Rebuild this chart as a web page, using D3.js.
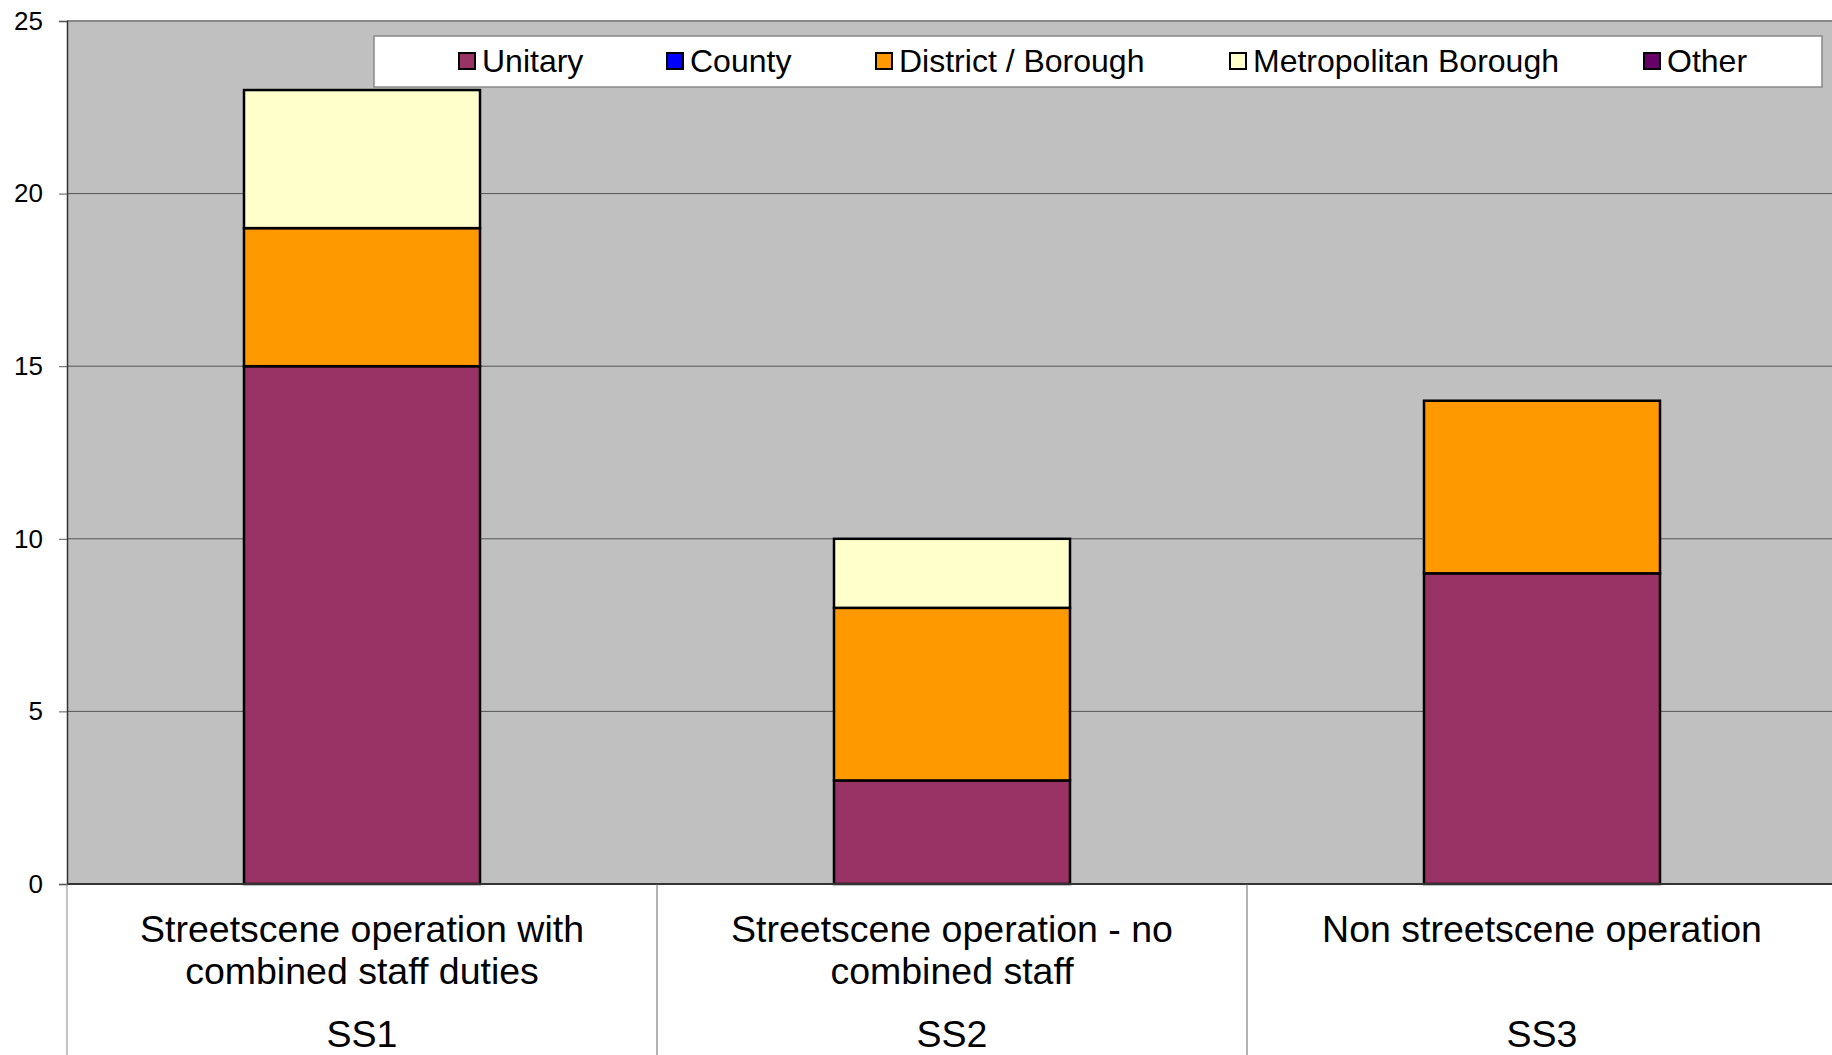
<!DOCTYPE html>
<html>
<head>
<meta charset="utf-8">
<script src="https://cdn.jsdelivr.net/npm/d3@7"></script>
<style>
  html, body { margin: 0; padding: 0; background: #ffffff; overflow: hidden; }
  svg { display: block; font-family: "Liberation Sans", Arial, sans-serif; }
</style>
</head>
<body>
<svg id="chart" width="1832" height="1055"></svg>
<script>
// Categories and their two-line descriptions
const categories = ["SS1", "SS2", "SS3"];
const categoryLines = [
  ["Streetscene operation with", "combined staff duties"],
  ["Streetscene operation - no", "combined staff"],
  ["Non streetscene operation"]
];

// Series (stack order bottom to top)
const seriesNames = ["Unitary", "County", "District / Borough", "Metropolitan Borough", "Other"];
const seriesColors = ["#993366", "#0000ff", "#ff9900", "#ffffcc", "#660066"];

// Counts per category for each series
const unitary      = [15, 3, 9];
const county       = [0, 0, 0];
const district     = [4, 5, 5];
const metropolitan = [4, 2, 0];
const other        = [0, 0, 0];

const yTicks = [0, 5, 10, 15, 20, 25];

const rows = categories.map((c, i) => ({
  cat: c,
  "Unitary": unitary[i],
  "County": county[i],
  "District / Borough": district[i],
  "Metropolitan Borough": metropolitan[i],
  "Other": other[i]
}));

const svg = d3.select("#chart");
const W = 1832, H = 1055;
const plot = { left: 67, right: 1837, top: 21, bottom: 884 };

const x = d3.scaleBand()
  .domain(categories)
  .range([plot.left, plot.right])
  .paddingInner(0.6)
  .paddingOuter(0.3);

const y = d3.scaleLinear()
  .domain([0, 25])
  .range([plot.bottom, plot.top]);

// Plot background
svg.append("rect")
  .attr("x", plot.left).attr("y", plot.top)
  .attr("width", plot.right - plot.left)
  .attr("height", plot.bottom - plot.top)
  .attr("fill", "#c0c0c0");

// Horizontal gridlines
svg.append("g")
  .selectAll("line")
  .data(yTicks.filter(t => t > 0 && t < 25))
  .join("line")
  .attr("x1", plot.left).attr("x2", plot.right)
  .attr("y1", d => y(d)).attr("y2", d => y(d))
  .attr("stroke", "#555555").attr("stroke-width", 1);

// Top border of plot
svg.append("line")
  .attr("x1", plot.left).attr("x2", plot.right)
  .attr("y1", y(25)).attr("y2", y(25))
  .attr("stroke", "#888888").attr("stroke-width", 2);

// Y axis
const yAxis = d3.axisLeft(y)
  .tickValues(yTicks)
  .tickSize(8)
  .tickPadding(16)
  .tickFormat(d3.format("d"));

const gy = svg.append("g")
  .attr("transform", `translate(${plot.left},0)`)
  .call(yAxis);
gy.select(".domain").attr("stroke", "#333333").attr("stroke-width", 1.5);
gy.selectAll(".tick line").attr("stroke", "#555555");
gy.selectAll(".tick text")
  .attr("font-size", 26)
  .attr("fill", "#000")
  .attr("font-family", "Liberation Sans, Arial, sans-serif");

// Stacked bars
const stack = d3.stack().keys(seriesNames);
const stacked = stack(rows);
const color = d3.scaleOrdinal().domain(seriesNames).range(seriesColors);

svg.append("g")
  .selectAll("g")
  .data(stacked)
  .join("g")
  .attr("fill", d => color(d.key))
  .selectAll("rect")
  .data(d => d.filter(s => s[1] - s[0] > 0))
  .join("rect")
  .attr("x", d => x(d.data.cat))
  .attr("width", x.bandwidth())
  .attr("y", d => y(d[1]))
  .attr("height", d => y(d[0]) - y(d[1]))
  .attr("stroke", "#000")
  .attr("stroke-width", 2.5);

// X axis baseline
svg.append("line")
  .attr("x1", plot.left).attr("x2", plot.right)
  .attr("y1", plot.bottom).attr("y2", plot.bottom)
  .attr("stroke", "#333333").attr("stroke-width", 2);

// Category separators below the axis
const step = x.step();
const seps = categories.map((c, i) => plot.left + i * step);
svg.append("g")
  .selectAll("line")
  .data(seps)
  .join("line")
  .attr("x1", d => d).attr("x2", d => d)
  .attr("y1", plot.bottom).attr("y2", H)
  .attr("stroke", d => d === plot.left ? "#888888" : "#666666")
  .attr("stroke-width", 1);

// Category labels
const catG = svg.append("g")
  .selectAll("g")
  .data(categories)
  .join("g")
  .attr("transform", d => `translate(${x(d) + x.bandwidth() / 2},0)`);

catG.each(function(d, i) {
  const g = d3.select(this);
  categoryLines[i].forEach((line, j) => {
    g.append("text")
      .attr("y", 929 + j * 42)
      .attr("dy", "0.35em")
      .attr("text-anchor", "middle")
      .attr("font-size", 37.5)
      .attr("fill", "#000")
      .text(line);
  });
  g.append("text")
    .attr("y", 1034)
    .attr("dy", "0.35em")
    .attr("text-anchor", "middle")
    .attr("font-size", 37.5)
    .attr("fill", "#000")
    .text(d);
});

// Legend
const legend = svg.append("g");
legend.append("rect")
  .attr("x", 374).attr("y", 36)
  .attr("width", 1448).attr("height", 51)
  .attr("fill", "#ffffff")
  .attr("stroke", "#888888").attr("stroke-width", 1.5);

const legendX = [459, 667, 876, 1230, 1644];
const items = legend.selectAll("g.item")
  .data(seriesNames)
  .join("g")
  .attr("class", "item")
  .attr("transform", (d, i) => `translate(${legendX[i]},61)`);

items.append("rect")
  .attr("x", 0).attr("y", -8)
  .attr("width", 16).attr("height", 16)
  .attr("fill", d => color(d))
  .attr("stroke", "#000").attr("stroke-width", 2);

items.append("text")
  .attr("x", 23)
  .attr("dy", "0.35em")
  .attr("font-size", 32)
  .attr("fill", "#000")
  .text(d => d);
</script>
</body>
</html>
